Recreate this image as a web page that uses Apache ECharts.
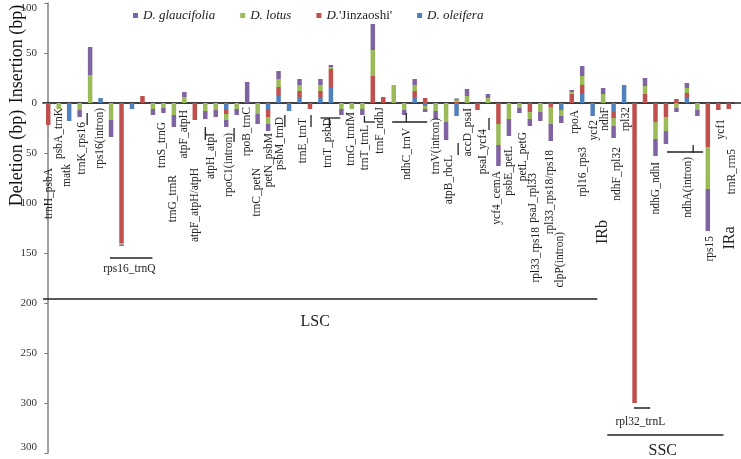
<!DOCTYPE html>
<html><head><meta charset="utf-8">
<script src="https://cdn.jsdelivr.net/npm/echarts@6/dist/echarts.min.js"></script>
<style>html,body{margin:0;padding:0;background:#fff}#c{width:741px;height:459px}</style>
</head><body><div id="c"></div>
<script>
// 66 indel sites along the plastome (left to right)
const categories = ['1','2','3','4','5','6','7','8','9','10','11','12','13','14','15','16','17','18','19','20',
  '21','22','23','24','25','26','27','28','29','30','31','32','33','34','35','36','37','38','39','40',
  '41','42','43','44','45','46','47','48','49','50','51','52','53','54','55','56','57','58','59','60',
  '61','62','63','64','65','66'];

// insertion (+) / deletion (-) lengths in bp
const glaucifolia = [0,0,0,-7,28,0,-17,-1.5,0,0, -6,-5,-12,5,0,-8,-7,-7,-6,21, -10,-7,8,0,6,0,6,2,-6,0,
  -6,26,0,0,-5,6,-3,-8,-18,1.5, 7,-1,4,-21,-17,-5,-7,-9,-17,-7, 2,10,0,6,-12,0,0,8,-17,-13, -4,5,-6,-42,0,0];
const lotus = [0,-6,0,-7,28,0,-17,-1.5,0,0, -6,-5,-12,6,0,-8,-7,-6,-6,0, -11,-7,8,0,6,0,6,2,-6,-6,
  -6,26,0,18,-7,6,-3,-8,-19,1.5, 7,0,5,-21,-16,-5,-7,-9,-17,-6, 2,9,0,9,-8,0,0,8,-17,-14, -5,5,-7,-42,0,0];
const jinzaoshi = [-22,0,0,0,0,0,0,-140,0,7, 0,0,0,0,-17,0,0,-5,0,0, 0,-7,8,0,6,-6,6,19,0,0,
  0,27,6,0,0,6,5,0,0,1.5, 0,-6,0,-21,0,0,-9,0,-4,0, 9,9,0,0,-6,0,-300,9,-19,-14, 4,5,0,-44,-7,-6];
const oleifera = [0,0,-18,0,0,5,0,0,-6,0, 0,0,0,0,0,0,0,-6,0,0, 0,-7,8,-8,6,0,6,15,0,0,
  0,0,0,0,0,6,-3,0,0,-13, 0,0,0,0,0,0,0,0,0,-7, 0,9,-13,0,-9,18,0,0,0,0, 0,5,0,0,0,0];

const yTickValues = [100,50,0,-50,-100,-150,-200,-250,-300,-350];
const yTickLabels = ['100','50','0','50','100','150','200','250','300','300'];

// gene-region labels: [site index, value where the label's top sits, text]
const geneLabels = [
  [0.1,-65,'trnH_psbA'],[1.05,-5,'psbA_trnK'],[1.8,-61,'matk'],[3.25,-19,'trnK_rps16'],
  [4.9,-5,'rps16(intron)'],[10.9,-19,'trnS_trnG'],[11.95,-72,'trnG_trnR'],[13.0,-7,'atpF_atpH'],
  [14.05,-65,'atpF_atpH/atpH'],[15.5,-30,'atpH_atpI'],[17.3,-30,'rpoC1(intron)'],[19.0,-4,'rpoB_trnC'],
  [19.95,-65,'trnC_petN'],[21.1,-30,'petN_psbM'],[22.15,-14,'psbM_trnD'],[24.35,-15,'trnE_trnT'],
  [26.75,-15,'trnT_psbD'],[28.95,-9,'trnG_trnfM'],[30.3,-22,'trnT_trnL'],[31.7,-4,'trnF_ndhJ'],
  [34.3,-25,'ndhC_trnV'],[37.05,-15,'trnV(intron)'],[38.3,-52,'atpB_rbcL'],[40.1,-5,'accD_psaI'],
  [41.55,-26,'psaI_ycf4'],[42.9,-68,'ycf4_cemA'],[44.05,-43,'psbE_petL'],[45.3,-29,'petL_petG'],
  [46.3,-70,'psaJ_rpl33'],[46.6,-124,'rpl33_rps18'],[47.95,-47,'rpl33_rps18/rps18'],[48.9,-129,'clpP(intron)'],
  [50.35,-7,'rpoA'],[51.1,-44,'rpl16_rps3'],[52.15,-17,'ycf2'],[53.2,-4,'ndhF'],
  [54.35,-44,'ndhF_rpl32'],[55.2,-4,'rpl32'],[58.05,-59,'ndhG_ndhI'],[61.15,-54,'ndhA(intron)'],
  [63.2,-133,'rps15'],[64.3,-16,'ycf1'],[65.35,-46,'trnR_rrn5']
];

// bracket / region lines: [x1, y1, x2, y2, width]
const guideLines = [
  [3.72,-10,3.72,-22,1.3],[15.0,-24,15.0,-37,1.3],[17.75,-25,17.75,-39,1.3],[22.6,-12,22.6,-24,1.3],
  [25.1,-12,25.1,-24,1.3],[26.0,-15,27.9,-15,1.3],[26.85,-15,26.85,-24,1.3],
  [30.15,-19,31.2,-19,1.3],[30.2,-13,30.2,-19,1.3],[32.85,-19,36.2,-19,1.3],[34.2,-10,34.2,-19,1.3],
  [39.15,-40,39.15,-52,1.3],[42.1,-15,42.1,-27,1.3],[59.1,-49,62.55,-49,1.3],[61.6,-42,61.6,-50,1.3],
  [5.9,-155,9.95,-155,1.5],[55.95,-305,57.5,-305,1.5],
  [-0.5,-196,52.45,-196,1.6],[53.4,-332,64.5,-332,1.6],
  [65.5,0,66.3,0,1.5]
];

// region names: [x, y, text, rotated, size]
const regionLabels = [
  [25.5,-219,'LSC',0,16],[53.0,-129,'IRb',1,16],[65.1,-135,'IRa',1,16],[58.7,-348,'SSC',0,16],
  [7.75,-166,'rps16_trnQ',0,11.5],[56.55,-319,'rpl32_trnL',0,11.5]
];

const SERIF = '"Liberation Serif","Times New Roman",serif';
const nz = a => a.map(v => v === 0 ? null : v);

const barDefs = [
  ['D. oleifera', oleifera, '#4F81BD'],
  ["D.'Jinzaoshi'", jinzaoshi, '#C0504D'],
  ['D. lotus', lotus, '#9BBB59'],
  ['D. glaucifolia', glaucifolia, '#8064A2']
];

const chart = echarts.init(document.getElementById('c'));
chart.setOption({
  animation: false,
  grid: {left: 43, right: 7, top: 3, bottom: 6},
  legend: {
    data: ['D. glaucifolia','D. lotus',"D.'Jinzaoshi'",'D. oleifera'],
    left: 128, top: 4, icon: 'rect', itemWidth: 5, itemHeight: 5, itemGap: 25,
    formatter: n => n.indexOf("D.'") === 0 ? '{i|D.}{n|' + n.slice(2) + '}' : '{i|' + n + '}',
    textStyle: {fontFamily: SERIF, fontSize: 13, color: '#222',
      rich: {i: {fontFamily: SERIF, fontSize: 13, fontStyle: 'italic', color: '#222'},
             n: {fontFamily: SERIF, fontSize: 13, color: '#222'}}}
  },
  xAxis: [
    {type: 'category', data: categories, axisLine: {onZero: true, lineStyle: {color: '#000', width: 1.5}},
     axisTick: {show: false}, axisLabel: {show: false}, splitLine: {show: false}},
    {type: 'value', min: -0.5, max: 65.5, show: false}
  ],
  yAxis: {
    type: 'value', min: -350, max: 100, interval: 50,
    axisLine: {show: true, lineStyle: {color: '#808080', width: 1.5}},
    axisTick: {show: true, length: 4, lineStyle: {color: '#808080'}},
    splitLine: {show: false},
    axisLabel: {margin: 6, fontFamily: SERIF, fontSize: 11, color: '#333',
      verticalAlignMaxLabel: 'top', verticalAlignMinLabel: 'bottom',
      formatter: v => { const k = yTickValues.indexOf(v); return k >= 0 ? yTickLabels[k] : ''; }}
  },
  graphic: [
    {type: 'text', x: 17, y: 54, rotation: Math.PI / 2,
     style: {text: 'Insertion (bp)', fontFamily: SERIF, fontSize: 18, fill: '#111', align: 'center', verticalAlign: 'middle'}},
    {type: 'text', x: 17, y: 158, rotation: Math.PI / 2,
     style: {text: 'Deletion (bp)', fontFamily: SERIF, fontSize: 18, fill: '#111', align: 'center', verticalAlign: 'middle'}}
  ],
  series: barDefs.map(d => ({
    name: d[0], type: 'bar', stack: 'all', barWidth: 4.5, data: nz(d[1]),
    itemStyle: {color: d[2]}, xAxisIndex: 0, yAxisIndex: 0
  })).concat([
    {type: 'custom', name: 'lines', xAxisIndex: 1, yAxisIndex: 0, silent: true, z: 4,
     data: guideLines.map(d => [d[0], d[1]]),
     renderItem: (params, api) => {
       const d = guideLines[params.dataIndex];
       const a = api.coord([d[0], d[1]]), b = api.coord([d[2], d[3]]);
       return {type: 'line', shape: {x1: a[0], y1: a[1], x2: b[0], y2: b[1]},
               style: {stroke: '#222', lineWidth: d[4]}};
     }},
    {type: 'custom', name: 'genes', xAxisIndex: 1, yAxisIndex: 0, silent: true, z: 5,
     data: geneLabels.map(d => [d[0], d[1]]),
     renderItem: (params, api) => {
       const d = geneLabels[params.dataIndex];
       const p = api.coord([d[0], d[1]]);
       return {type: 'text', x: p[0], y: p[1], rotation: Math.PI / 2,
               style: {text: d[2], fontFamily: SERIF, fontSize: 11.5, fill: '#222', align: 'right', verticalAlign: 'middle'}};
     }},
    {type: 'custom', name: 'regions', xAxisIndex: 1, yAxisIndex: 0, silent: true, z: 5,
     data: regionLabels.map(d => [d[0], d[1]]),
     renderItem: (params, api) => {
       const d = regionLabels[params.dataIndex];
       const p = api.coord([d[0], d[1]]);
       return {type: 'text', x: p[0], y: p[1], rotation: d[3] ? Math.PI / 2 : 0,
               style: {text: d[2], fontFamily: SERIF, fontSize: d[4], fill: '#222', align: 'center', verticalAlign: 'middle'}};
     }}
  ])
});
</script>
</body></html>
